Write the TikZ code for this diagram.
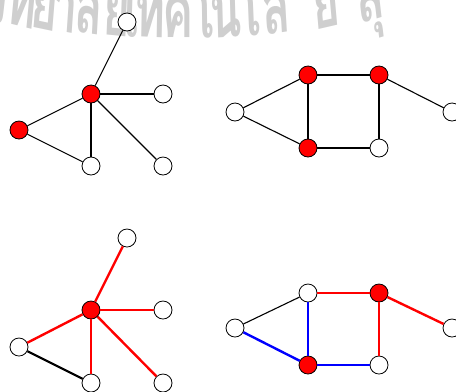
\documentclass[tikz,border=0pt]{standalone}
\usepackage{fontspec}
\newfontfamily\thaifont[Script=Thai]{Loma}
\tikzset{
  vtx/.style={circle, draw=black, line width=0.8bp, minimum size=18bp, inner sep=0pt, fill=white},
  hot/.style={vtx, fill=red},
  thin/.style={draw=black, line width=1.1bp},
  thickred/.style={draw=red, line width=2.4bp},
  thickblue/.style={draw=blue, line width=2.4bp},
  thickblack/.style={draw=black, line width=2.2bp},
  wmark/.style={anchor=base, inner sep=0pt, text=black!19, transform shape,
    xscale=0.9, yscale=1.45,
    font=\thaifont\bfseries\fontsize{52}{52}\selectfont},
}
\begin{document}
\begin{tikzpicture}[x=1bp, y=-1bp]
\useasboundingbox (0,0) rectangle (456,391);
\clip (0,0) rectangle (456,391);

% arched university name in the background
\foreach \cx/\txt in {-8/วิ, 20/ท, 43/ย, 64/า, 88/ลั, 116/ย, 131/เ, 150/ท, 178/ค, 203/โ, 226/น, 250/โ, 278/ล, 328/ยี, 372/สุ} {
  \pgfmathsetmacro\ang{asin((\cx-180)/1050)}
  \pgfmathsetmacro\by{38-((\cx-180)/100)^2*100/21}
  \node[wmark, rotate=\ang] at (\cx,\by) {\txt};
}

% ---- graph 1: star with triangle ----
\node[vtx] (a1) at (127,22) {};
\node[hot] (h1) at (91,94) {};
\node[vtx] (r1) at (163,94) {};
\node[hot] (l1) at (19,130) {};
\node[vtx] (b1) at (91,166) {};
\node[vtx] (c1) at (163,166) {};
\draw[thin] (h1) -- (a1);
\draw[thin] (h1) -- (r1);
\draw[thin] (h1) -- (l1);
\draw[thin] (h1) -- (b1);
\draw[thin] (h1) -- (c1);
\draw[thin] (l1) -- (b1);

% ---- graph 2: square with two ears ----
\node[vtx] (p2) at (235,112) {};
\node[hot] (q2) at (308,75) {};
\node[hot] (s2) at (379,75) {};
\node[hot] (t2) at (308,148) {};
\node[vtx] (u2) at (379,148) {};
\node[vtx] (w2) at (452,112) {};
\draw[thin] (p2) -- (q2);
\draw[thin] (p2) -- (t2);
\draw[thin] (q2) -- (s2);
\draw[thin] (q2) -- (t2);
\draw[thin] (s2) -- (u2);
\draw[thin] (t2) -- (u2);
\draw[thin] (s2) -- (w2);

% ---- graph 3: star, coloured ----
\node[vtx] (a3) at (127,238) {};
\node[hot] (h3) at (91,310) {};
\node[vtx] (r3) at (163,310) {};
\node[vtx] (l3) at (19,347) {};
\node[vtx] (b3) at (91,383) {};
\node[vtx] (c3) at (163,383) {};
\draw[thickred] (h3) -- (a3);
\draw[thickred] (h3) -- (r3);
\draw[thickred] (h3) -- (l3);
\draw[thickred] (h3) -- (b3);
\draw[thickred] (h3) -- (c3);
\draw[thickblack] (l3) -- (b3);

% ---- graph 4: square, coloured ----
\node[vtx] (p4) at (235,328) {};
\node[vtx] (q4) at (308,293) {};
\node[hot] (s4) at (379,293) {};
\node[hot] (t4) at (308,365) {};
\node[vtx] (u4) at (379,365) {};
\node[vtx] (w4) at (452,328) {};
\draw[thin] (p4) -- (q4);
\draw[thickblue] (p4) -- (t4);
\draw[thickblue] (q4) -- (t4);
\draw[thickblue] (t4) -- (u4);
\draw[thickred] (q4) -- (s4);
\draw[thickred] (s4) -- (u4);
\draw[thickred] (s4) -- (w4);
\end{tikzpicture}
\end{document}
